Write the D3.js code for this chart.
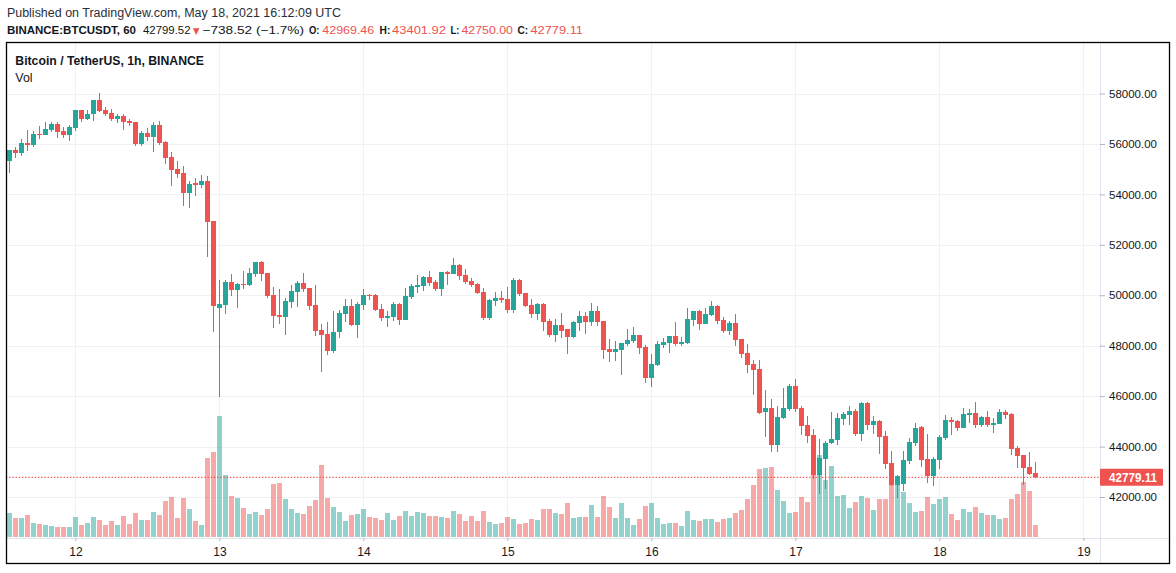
<!DOCTYPE html>
<html><head><meta charset="utf-8">
<script src="https://cdn.jsdelivr.net/npm/d3@7"></script>
<style>body{margin:0;background:#fff}svg{display:block}</style>
</head><body>
<svg id="c" width="1176" height="573"></svg>
<script>
// ---- DATA (BINANCE:BTCUSDT, 1h candles, first candle 2021-05-11 13:00 UTC) ----
const firstCandle = Date.UTC(2021, 4, 11, 13);
const open = [55320,55760,55650,56040,55960,56390,56350,56570,56790,56500,56370,
56640,57350,57000,57170,57740,57350,57230,57000,57090,56910,56870,56010,56430,56290,56750,56080,55480,55010,54850,54070,54450,54380,54530,52940,
49510,49620,50520,50210,50440,50420,50860,51320,50880,50010,49220,49150,49740,50140,50500,50290,49610,48630,48460,47800,48540,49270,49570,48830,49630,50010,50010,49450,
49110,49150,49650,49030,49940,50340,50370,50720,50520,50250,50920,50840,51200,50800,50560,50450,50130,49100,49770,49890,
49850,49410,50600,50090,49610,49260,49650,48980,48420,48820,48660,48340,48900,49180,48940,49370,48980,47870,47750,47830,48070,48190,48420,47950,
46720,47230,48030,48110,48380,48070,48110,49020,49380,48860,49220,49570,49020,48580,48900,48260,47710,47270,47080,45370,45530,44060,45130,45490,
46400,45530,44850,44460,42870,43510,44140,44260,45090,45250,45410,44500,45730,44850,45010,44420,43350,42480,42510,43430,44140,44780,43510,42830,
43470,44340,45050,45010,44740,45250,45330,44850,45170,44850,44890,45370,45290,43940,43660,43190,42969.46];
const high = [55760,55880,56190,56550,56510,56710,56870,56870,56860,56670,56760,
57360,57360,57350,57740,58020,57460,57380,57190,57190,56990,56880,56510,56630,56870,56910,56120,55680,55320,55120,54530,54650,54770,54730,52950,
50600,50600,50840,50480,50960,51080,51320,51360,50890,50330,50250,49890,50420,50560,50880,50300,50420,48860,48940,49370,49410,49850,49850,49730,50250,50050,50050,49650,
49370,49730,49690,50290,50450,50800,50760,50960,50600,50920,50960,51480,51240,51040,50680,50490,50290,49850,50130,50170,
50330,50680,50640,50100,49850,49690,49690,49060,49060,49300,48670,48980,49370,49340,49690,49570,48990,48260,48190,48110,48660,48740,48430,48030,
47670,48190,48300,48380,48940,48340,49490,49380,49410,49490,49770,49610,49140,48980,49260,48270,48070,47430,47430,46240,45890,45610,46320,46480,
46680,45610,45210,44700,44300,44220,45370,45330,45370,45610,45490,45770,45770,45210,45050,44620,43820,42870,43820,44340,44930,44810,44500,43590,
44460,45250,45170,45050,45530,45490,45770,45210,45410,45130,45490,45450,45330,44020,43670,43780,43401.92];
const low = [54860,55450,55520,55730,55890,56210,56350,56490,56250,56220,56130,
56530,56870,56940,56920,57270,57120,56900,56840,56570,56720,55920,55930,56130,55680,55970,55220,54340,54660,53550,53470,53950,54250,51530,48550,
45980,49270,49970,49510,50250,50380,50740,50580,49900,48710,48870,48440,49510,49550,50140,49410,48400,46970,47640,47720,48320,48950,48790,48320,49430,49820,49390,48990,
48750,48990,48830,49020,49860,50090,50170,50370,50170,49970,50410,50840,50600,50450,50330,50050,49020,49020,49570,49690,
49300,49300,49970,49530,49100,49020,48580,48340,48150,48300,47670,48300,48580,48460,48780,48780,47470,47350,47390,46840,47990,48110,47670,46520,
46360,47200,47910,47710,47990,47990,48070,48780,48620,48860,49180,48860,48500,48420,47990,47510,46920,46040,45290,44380,43780,43780,45090,45410,
45370,44460,44140,42710,42120,42320,44100,44060,44850,44850,44420,44220,44660,44500,43700,43110,42440,41960,42240,43300,44040,43190,42550,42440,
43110,44260,44460,44620,44740,44930,44740,44780,44780,44540,44890,45090,43660,43150,42480,42870,42750.00];
const close = [55760,55650,56040,55960,56390,56350,56600,56790,56490,56370,56670,
57350,57000,57190,57740,57310,57190,57000,57090,56880,56840,56000,56430,56290,56750,56050,55450,54980,54820,54070,54410,54380,54530,52920,49580,
49650,50520,50210,50440,50400,50880,51320,50860,49980,49190,49150,49770,50170,50500,50260,49590,48590,48440,47800,48540,49300,49570,48830,49650,50010,49980,49430,49110,
49180,49650,49030,49970,50370,50410,50720,50490,50250,50920,50840,51200,50760,50520,50410,50090,49100,49810,49890,49810,
49410,50600,50050,49570,49260,49650,48940,48420,48820,48580,48340,48940,49180,48940,49370,48940,47830,47750,47870,48110,48220,48420,47910,46720,
47270,48070,48150,48380,48070,48150,49060,49380,48860,49260,49570,48980,48580,48900,48230,47670,47230,47040,45330,45530,44060,45170,45530,46400,
45490,44810,44420,42870,43550,44140,44300,45130,45290,45410,44500,45730,44850,45010,44380,43310,42480,42830,43470,44180,44740,43470,42830,43510,
44380,45050,44970,44740,45290,45330,44850,45170,44850,44930,45370,45250,43900,43630,43150,42910,42779.11];
const volume = [3700,2950,2950,3400,2200,2050,1900,1600,1450,1450,1450,
3100,1900,2200,3100,2650,1900,2500,1900,3250,2050,3700,2650,2650,3850,3400,5500,6100,2950,5950,4300,2500,1900,11950,13000,
18400,9400,6250,5950,4450,3550,3850,3400,4300,8050,8200,5800,4300,3700,3550,4750,5650,10900,5950,4600,3850,2500,3400,3550,4300,3100,2950,2650,
3700,2650,3250,4000,3250,3850,3700,3250,3250,3100,2950,4000,3550,2500,3250,2500,4000,2350,2050,2200,
3100,2800,2050,2200,2800,2650,4300,4300,3700,3550,5200,2950,3100,3100,4900,3100,6250,4600,2950,5200,2950,1750,2800,4750,
5200,2950,2050,2200,2200,1600,4000,2650,2500,2800,2800,2350,2800,2950,3700,4150,5800,7900,10300,10450,10600,7150,5500,3700,
3850,6100,5350,9400,12400,8650,10750,6250,6400,4450,5350,6250,5950,4150,5800,5800,8050,8650,6850,5200,3850,4000,6100,5050,
5800,6100,3550,2650,4300,3850,4600,3700,3400,3400,2800,2950,5800,6550,8350,7000,1900];
const priceTicks = [42000,44000,46000,48000,50000,52000,54000,56000,58000];
const lastPrice = 42779.11;
const publishedText = "Published on TradingView.com, May 18, 2021 16:12:09 UTC";
const symbolText = "BINANCE:BTCUSDT, 60";
const quoteText = "42799.52";
const changeText = "\u2212738.52 (\u22121.7%)";
const ohlcLabels = ["O:", "H:", "L:", "C:"];
const ohlcValues = ["42969.46", "43401.92", "42750.00", "42779.11"];
const titleText = "Bitcoin / TetherUS, 1h, BINANCE";
const volText = "Vol";

// ---- CHART ----
const UP = "#26a69a", DOWN = "#ef5350";
const svg = d3.select("#c");
const FONT = "'Liberation Sans', Arial, sans-serif";
const HFONT = "'Liberation Sans', Arial, sans-serif";
const times = open.map((_, i) => new Date(firstCandle + i * 3600e3));

const L = 6, T = 42, R = 1100, B = 538, RIGHT = 1170, BOTTOM = 563;
const x = d3.scaleUtc().domain([Date.UTC(2021,4,12), Date.UTC(2021,4,19)]).range([75.4, 1083.4]);
const y = d3.scaleLinear().domain([42000, 58000]).range([497, 93.5]);
const yv = d3.scaleLinear().domain([0, d3.max(volume)]).range([537, 416]);
const dayTicks = d3.utcDay.range(Date.UTC(2021,4,12), Date.UTC(2021,4,19,1));

// grid
const grid = svg.append("g").attr("stroke", "#eff1f4").attr("stroke-width", 1);
grid.selectAll("line.v").data(dayTicks).join("line")
  .attr("x1", d => Math.round(x(d)) + 0.5).attr("x2", d => Math.round(x(d)) + 0.5)
  .attr("y1", T).attr("y2", B);
grid.selectAll("line.h").data(priceTicks).join("line")
  .attr("x1", L).attr("x2", R)
  .attr("y1", d => Math.round(y(d)) + 0.5).attr("y2", d => Math.round(y(d)) + 0.5);

// volume
const bw = 5;
svg.append("g").attr("shape-rendering", "crispEdges").selectAll("rect").data(volume).join("rect")
  .attr("x", (d, i) => Math.round(x(times[i]) - bw / 2))
  .attr("width", bw)
  .attr("y", d => yv(d)).attr("height", d => yv(0) - yv(d))
  .attr("fill", (d, i) => close[i] >= open[i] ? UP : DOWN)
  .attr("fill-opacity", 0.5);

// last price dotted line
svg.append("line").attr("x1", L).attr("x2", R)
  .attr("y1", y(lastPrice)).attr("y2", y(lastPrice))
  .attr("stroke", DOWN).attr("stroke-width", 1.3).attr("stroke-dasharray", "1.3,1.9");

// candles
const cg = svg.append("g").attr("shape-rendering", "crispEdges");
const idx = d3.range(open.length);
cg.selectAll("line").data(idx).join("line")
  .attr("x1", i => Math.round(x(times[i])) + 0.5).attr("x2", i => Math.round(x(times[i])) + 0.5)
  .attr("y1", i => y(high[i])).attr("y2", i => y(low[i]))
  .attr("stroke", i => close[i] >= open[i] ? UP : DOWN).attr("stroke-width", 1);
cg.selectAll("rect").data(idx).join("rect")
  .attr("x", i => Math.round(x(times[i]) - bw / 2))
  .attr("width", bw)
  .attr("y", i => y(Math.max(open[i], close[i])))
  .attr("height", i => Math.max(1, Math.abs(y(open[i]) - y(close[i]))))
  .attr("fill", i => close[i] >= open[i] ? UP : DOWN);

// axis separators
svg.append("line").attr("x1", R + 0.5).attr("x2", R + 0.5).attr("y1", T).attr("y2", BOTTOM).attr("stroke", "#e0e3eb");
svg.append("line").attr("x1", L).attr("x2", RIGHT).attr("y1", B + 0.5).attr("y2", B + 0.5).attr("stroke", "#e0e3eb");

// price axis
const ya = svg.append("g").attr("transform", `translate(${R},0)`)
  .call(d3.axisRight(y).tickValues(priceTicks).tickFormat(d3.format(".2f")).tickSize(5).tickPadding(4));
ya.select(".domain").remove();
ya.selectAll("line").attr("stroke", "#b2b5be");
ya.selectAll("text").attr("font-family", FONT).attr("font-size", 11.5).attr("fill", "#131722");

// time axis
const xa = svg.append("g").attr("transform", `translate(0,${B})`)
  .call(d3.axisBottom(x).tickValues(dayTicks).tickFormat(d3.utcFormat("%-d")).tickSize(3).tickPadding(6));
xa.select(".domain").remove();
xa.selectAll("line").attr("stroke", "#b2b5be");
xa.selectAll("text").attr("font-family", FONT).attr("font-size", 12).attr("fill", "#131722");

// last price label
svg.append("rect").attr("x", R).attr("y", y(lastPrice) - 8.5).attr("width", 63).attr("height", 17)
  .attr("fill", DOWN).attr("rx", 1);
svg.append("text").attr("x", 1109).attr("y", y(lastPrice) + 4.3).text(d3.format(".2f")(lastPrice))
  .attr("font-family", FONT).attr("font-size", 12).attr("font-weight", "bold").attr("fill", "#fff")
  .attr("textLength", 48).attr("lengthAdjust", "spacingAndGlyphs");

// frame
svg.append("rect").attr("x", L + 0.5).attr("y", T + 0.5).attr("width", RIGHT - L - 1).attr("height", BOTTOM - T)
  .attr("fill", "none").attr("stroke", "#000").attr("stroke-width", 1.3);

// header texts
function txt(s, x0, x1, yb, opts = {}) {
  return svg.append("text").attr("x", x0).attr("y", yb).text(s)
    .attr("font-family", HFONT)
    .attr("font-size", opts.size || 12.5)
    .attr("font-weight", opts.bold ? "bold" : "normal")
    .attr("fill", opts.fill || "#131722")
    .attr("textLength", x1 - x0).attr("lengthAdjust", "spacingAndGlyphs");
}
txt(publishedText, 6.9, 341, 17, {fill: "#2a2e39"});

// line 2 segments
const segs = [
  {s: symbolText, x0: 6.9, x1: 136, bold: true},
  {s: quoteText, x0: 143, x1: 190.5},
  {s: "\u25BC", x0: 193, x1: 199.5, fill: DOWN, size: 9, font: "'DejaVu Sans', sans-serif"},
  {s: changeText, x0: 202.5, x1: 304}
];
const lx = [[309,319.5],[379.5,390.3],[450.5,459.3],[517.5,528.2]];
const vx = [[322.3,374.2],[392.1,446],[461.4,513],[530.4,583]];
ohlcLabels.forEach((l, i) => {
  segs.push({s: l, x0: lx[i][0], x1: lx[i][1], bold: true, size: 10.8});
  segs.push({s: ohlcValues[i], x0: vx[i][0], x1: vx[i][1], fill: DOWN});
});
const line2 = svg.append("text").attr("y", 34).attr("font-family", HFONT).attr("font-size", 11.4).attr("fill", "#131722");
segs.forEach(g => {
  line2.append("tspan").attr("x", g.x0).text(g.s)
    .attr("font-weight", g.bold ? "bold" : "normal")
    .attr("fill", g.fill || "#131722")
    .attr("font-size", g.size || 11.4)
    .attr("font-family", g.font || HFONT)
    .attr("textLength", g.x1 - g.x0).attr("lengthAdjust", "spacingAndGlyphs");
});

txt(titleText, 15.3, 204, 65, {bold: true});
txt(volText, 15.3, 32.6, 82);
</script>
</body></html>
